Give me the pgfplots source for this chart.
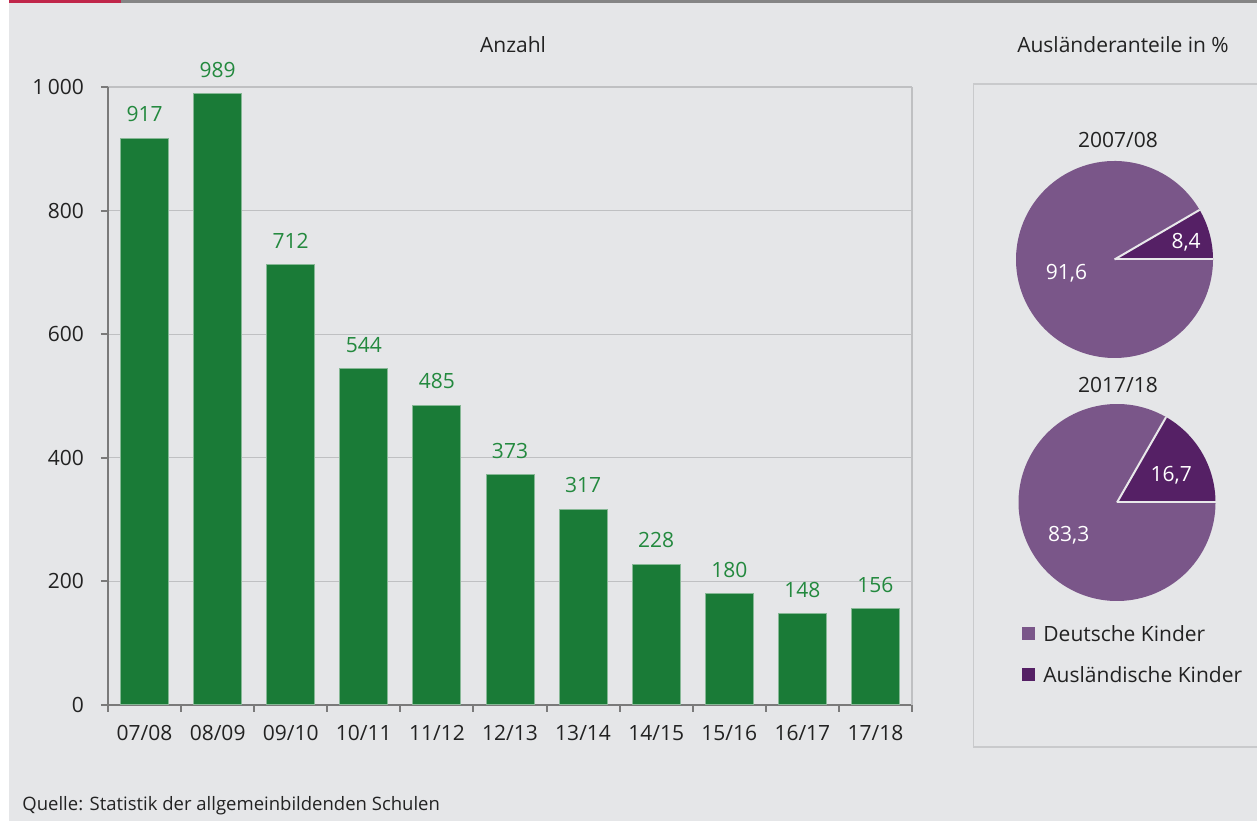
\documentclass[border=0pt]{standalone}
\usepackage{fontspec}
\setmainfont{Open Sans}
\usepackage{pgfplots}
\pgfplotsset{compat=1.18}
\usepackage{pgfplotstable}
\definecolor{bg}{HTML}{E5E6E8}
\definecolor{topred}{HTML}{C0264A}
\definecolor{topgray}{HTML}{858585}
\definecolor{boxline}{HTML}{C9CACC}
\definecolor{axisgray}{HTML}{7A7A7A}
\definecolor{gridgray}{HTML}{BFC0C2}
\definecolor{bargreen}{HTML}{1A7B37}
\definecolor{baredge}{HTML}{86B895}
\definecolor{labgreen}{HTML}{23893E}
\definecolor{txt}{HTML}{222222}
\definecolor{deutsch}{HTML}{7A5689}
\definecolor{ausl}{HTML}{552065}
\definecolor{sep}{HTML}{E8E8EA}

\pgfplotstableread{
x val
0 917
1 989
2 712
3 544
4 485
5 373
6 317
7 228
8 180
9 148
10 156
}\bardata

\pgfplotstableread{
year deutsch ausl
2007/08 91.6 8.4
2017/18 83.3 16.7
}\pietable

\newcommand{\fs}{\fontsize{10.5}{12.5}\selectfont}

\begin{document}%
\begin{tikzpicture}[x=0.5pt,y=0.5pt]
\pgfplotstablegetelem{0}{ausl}\of\pietable \let\auslA\pgfplotsretval
\pgfplotstablegetelem{1}{ausl}\of\pietable \let\auslB\pgfplotsretval
\pgfmathsetmacro\angA{3.6*\auslA}
\pgfmathsetmacro\angB{3.6*\auslB}
\fill[white] (0,0) rectangle (1257,823);
\fill[bg] (9,2) rectangle (1257,820);
\fill[topred] (9,820) rectangle (121,823);
\fill[topgray] (121,820) rectangle (1257,823);
\draw[boxline, line width=0.6pt] (1257,739) -- (973.5,739) -- (973.5,76) -- (1257,76);

\coordinate (barorigin) at (108,118);
\coordinate (pieA) at (1114.5,563.5);
\coordinate (pieB) at (1117,320.5);

\node[font=\fs, text=txt] at (513,778) {Anzahl};
\node[font=\fs, text=txt] at (1123,778) {Ausländeranteile in \%};
\node[font=\fs, text=txt] at (1118,683) {2007/08};
\node[font=\fs, text=txt] at (1118,438) {2017/18};
\node[font=\fontsize{9.25}{11}\selectfont, text=txt, anchor=west, inner sep=0pt] at (22,17) {Quelle: Statistik der allgemeinbildenden Schulen};

\begin{axis}[
  at={(barorigin)}, anchor=south west,
  width=402pt, height=309pt, scale only axis,
  xmin=-0.5, xmax=10.5, ymin=0, ymax=1000,
  axis lines*=left,
  axis line style={draw=axisgray, line width=1pt},
  ymajorgrids, grid style={draw=gridgray, line width=0.6pt},
  ytick={0,200,400,600,800,1000},
  yticklabels={0,200,400,600,800,1\,000},
  xtick={0,...,10},
  xticklabels={07/08,08/09,09/10,10/11,11/12,12/13,13/14,14/15,15/16,16/17,17/18},
  minor xtick={-0.5,0.5,...,10.5},
  every major x tick/.append style={draw=none},
  tick style={draw=axisgray, line width=1pt},
  tick align=outside, major tick length=3.5pt, minor tick length=3.5pt,
  ticklabel style={font=\fs, text=txt},
  yticklabel style={xshift=-5pt},
  xticklabel style={yshift=-3pt},
  ybar, bar width=24pt,
  /pgf/number format/assume math mode=true,
  nodes near coords,
  nodes near coords style={font=\fs, text=labgreen, anchor=south, yshift=4.5pt},
  clip=false,
]
\addplot[fill=bargreen, draw=baredge, line width=0.5pt] table[x=x,y=val]{\bardata};
\draw[gridgray, line width=0.6pt] (rel axis cs:1,0) -- (rel axis cs:1,1);
\end{axis}

% Pie 2007/08
\begin{axis}[at={(pieA)}, anchor=center, width=98.5pt, height=98.5pt,
  scale only axis, hide axis, xmin=-1, xmax=1, ymin=-1, ymax=1, clip=false]
\fill[deutsch] (axis cs:0,0) -- ++(\angA:49.25pt) arc[start angle=\angA, end angle=360, radius=49.25pt] -- cycle;
\fill[ausl] (axis cs:0,0) -- ++(0:49.25pt) arc[start angle=0, end angle=\angA, radius=49.25pt] -- cycle;
\draw[sep, line width=1pt] (axis cs:0,0) -- ++(0:49.25pt);
\draw[sep, line width=1pt] (axis cs:0,0) -- ++(\angA:49.25pt);
\node[font=\fs, text=white] at (axis cs:0.727,0.172) {8,4};
\node[font=\fs, text=white] at (axis cs:-0.487,-0.142) {91,6};
\end{axis}

% Pie 2017/18
\begin{axis}[at={(pieB)}, anchor=center, width=98.5pt, height=98.5pt,
  scale only axis, hide axis, xmin=-1, xmax=1, ymin=-1, ymax=1, clip=false]
\fill[deutsch] (axis cs:0,0) -- ++(\angB:49.25pt) arc[start angle=\angB, end angle=360, radius=49.25pt] -- cycle;
\fill[ausl] (axis cs:0,0) -- ++(0:49.25pt) arc[start angle=0, end angle=\angB, radius=49.25pt] -- cycle;
\draw[sep, line width=1pt] (axis cs:0,0) -- ++(0:49.25pt);
\draw[sep, line width=1pt] (axis cs:0,0) -- ++(\angB:49.25pt);
\node[font=\fs, text=white] at (axis cs:0.55,0.28) {16,7};
\node[font=\fs, text=white] at (axis cs:-0.49,-0.33) {83,3};
\end{axis}

% Legend
\fill[deutsch] (1022,183) rectangle (1035,196);
\node[font=\fs, text=txt, anchor=west, inner sep=0pt] at (1043,189.5) {Deutsche Kinder};
\fill[ausl] (1022,142) rectangle (1035,155);
\node[font=\fs, text=txt, anchor=west, inner sep=0pt] at (1043,148.5) {Ausländische Kinder};

\pgfresetboundingbox
\path[use as bounding box] (0,0) rectangle (1257,823);
\end{tikzpicture}%
\end{document}
